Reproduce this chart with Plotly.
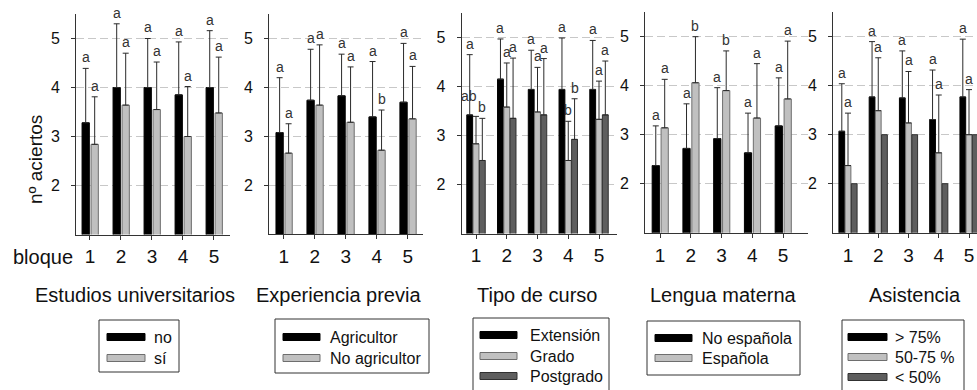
import plotly.graph_objects as go

W, H = 977, 390
FONT = "Liberation Sans, Arial, sans-serif"

# ---------------- data ----------------
bloques = [1, 2, 3, 4, 5]
tick_labels = ["1", "2", "3", "4", "5"]
y_ticks = [2, 3, 4, 5]

# Estudios universitarios
est_names = ["no", "sí"]
est_no_mean = [3.28, 4.00, 4.00, 3.85, 4.00]
est_no_err = [1.11, 1.30, 1.00, 1.08, 1.16]
est_no_let = ["a", "a", "a", "a", "a"]
est_si_mean = [2.84, 3.64, 3.55, 3.00, 3.48]
est_si_err = [0.97, 1.06, 0.97, 1.02, 1.14]
est_si_let = ["a", "a", "a", "a", "a"]

# Experiencia previa
exp_names = ["Agricultor", "No agricultor"]
exp_agr_mean = [3.07, 3.73, 3.82, 3.39, 3.69]
exp_agr_err = [1.12, 1.04, 0.85, 1.13, 1.20]
exp_agr_let = ["a", "a", "a", "a", "a"]
exp_noagr_mean = [2.65, 3.63, 3.28, 2.71, 3.35]
exp_noagr_err = [0.60, 1.23, 1.13, 0.82, 1.07]
exp_noagr_let = ["a", "a", "a", "b", "a"]

# Tipo de curso
cur_names = ["Extensión", "Grado", "Postgrado"]
cur_ext_mean = [3.42, 4.15, 3.94, 3.94, 3.94]
cur_ext_err = [1.23, 0.82, 0.80, 1.05, 1.00]
cur_ext_let = ["a", "a", "a", "a", "a"]
cur_gra_mean = [2.83, 3.58, 3.48, 2.49, 3.33]
cur_gra_err = [0.56, 0.90, 0.91, 0.80, 0.78]
cur_gra_let = ["ab", "a", "a", "b", "a"]
cur_pos_mean = [2.49, 3.35, 3.42, 2.92, 3.42]
cur_pos_err = [0.86, 1.23, 1.15, 0.83, 1.10]
cur_pos_let = ["b", "a", "a", "b", "a"]

# Lengua materna
len_names = ["No española", "Española"]
len_noesp_mean = [2.37, 2.72, 2.92, 2.63, 3.18]
len_noesp_err = [0.81, 0.91, 1.04, 0.81, 0.98]
len_noesp_let = ["a", "a", "a", "a", "a"]
len_esp_mean = [3.14, 4.06, 3.90, 3.34, 3.73]
len_esp_err = [0.99, 0.94, 0.81, 1.11, 1.18]
len_esp_let = ["a", "b", "b", "a", "a"]

# Asistencia
asi_names = ["> 75%", "50-75 %", "< 50%"]
asi_alta_mean = [3.07, 3.77, 3.75, 3.31, 3.77]
asi_alta_err = [0.97, 1.13, 0.96, 1.01, 1.18]
asi_alta_let = ["a", "a", "a", "a", "a"]
asi_media_mean = [2.37, 3.49, 3.24, 2.63, 3.00]
asi_media_err = [1.07, 1.08, 1.05, 1.18, 0.92]
asi_media_let = ["a", "a", "a", "a", "a"]
asi_baja_mean = [2.00, 3.00, 3.00, 2.00, 3.00]

# ---------------- styles ----------------
BLACK = dict(color="#000000", line="#000000")
GRAY = dict(color="#c0c0c0", line="#6e6e6e")
DARK = dict(color="#5e5e5e", line="#303030")


def fx(px):
    return px / W


def fy(py):
    return 1 - py / H


panels = [
    dict(title="Estudios universitarios", dom=(76, 229.5), xr=(0.55, 5.5), yd=(234.5, 14.0),
         series=[(est_no_mean, est_no_err, est_no_let, BLACK, est_names[0]),
                 (est_si_mean, est_si_err, est_si_let, GRAY, est_names[1])],
         tx=135, legend=dict(box=(99, 320, 179, 372), sym=(107, 145), tx=152, rows=[337, 358])),
    dict(title="Experiencia previa", dom=(269, 423), xr=(0.52, 5.49), yd=(234.0, 13.5),
         series=[(exp_agr_mean, exp_agr_err, exp_agr_let, BLACK, exp_names[0]),
                 (exp_noagr_mean, exp_noagr_err, exp_noagr_let, GRAY, exp_names[1])],
         tx=338, legend=dict(box=(275, 319, 429, 373), sym=(283, 320), tx=328, rows=[337, 358])),
    dict(title="Tipo de curso", dom=(461.5, 617), xr=(0.528, 5.585), yd=(233.5, 13.0),
         series=[(cur_ext_mean, cur_ext_err, cur_ext_let, BLACK, cur_names[0]),
                 (cur_gra_mean, cur_gra_err, cur_gra_let, GRAY, cur_names[1]),
                 (cur_pos_mean, cur_pos_err, cur_pos_let, DARK, cur_names[2])],
         tx=537, legend=dict(box=(473, 318, 609, 400), sym=(480, 517), tx=528, rows=[335, 356, 376])),
    dict(title="Lengua materna", dom=(645, 808), xr=(0.512, 5.813), yd=(232.7, 12.2),
         series=[(len_noesp_mean, len_noesp_err, len_noesp_let, BLACK, len_names[0]),
                 (len_esp_mean, len_esp_err, len_esp_let, GRAY, len_names[1])],
         tx=723, legend=dict(box=(647, 321, 800, 375), sym=(655, 692), tx=700, rows=[338, 358])),
    dict(title="Asistencia", dom=(833, 977), xr=(0.504, 5.264), yd=(232.7, 12.2),
         series=[(asi_alta_mean, asi_alta_err, asi_alta_let, BLACK, asi_names[0]),
                 (asi_media_mean, asi_media_err, asi_media_let, GRAY, asi_names[1]),
                 (asi_baja_mean, None, None, DARK, asi_names[2])],
         tx=915, legend=dict(box=(842, 320, 964, 400), sym=(848, 887), tx=893, rows=[337, 357, 377])),
]

fig = go.Figure()
annotations = []
shapes = []
layout = {}

for i, p in enumerate(panels):
    n = i + 1
    xa = "x" if n == 1 else f"x{n}"
    ya = "y" if n == 1 else f"y{n}"
    xkey = "xaxis" if n == 1 else f"xaxis{n}"
    ykey = "yaxis" if n == 1 else f"yaxis{n}"
    ns = len(p["series"])
    if ns == 2:
        w, offs = 0.235, [-0.255, 0.035]
    else:
        w, offs = 0.19, [-0.30, -0.095, 0.11]
    for (mean, err, lets, sty, name), off in zip(p["series"], offs):
        ey = None
        if err is not None:
            ey = dict(type="data", symmetric=False, array=err, arrayminus=[0] * len(err),
                      color="#2a2a2a", thickness=1, width=3)
        fig.add_trace(go.Bar(x=bloques, y=mean, width=w, offset=off, name=name,
                             marker=dict(color=sty["color"], line=dict(color=sty["line"], width=1)),
                             error_y=ey, xaxis=xa, yaxis=ya, showlegend=False))
        if lets is not None:
            for b, m, e, t in zip(bloques, mean, err, lets):
                two = len(t) > 1
                annotations.append(dict(x=b + off + w / 2, y=m + e, xref=xa, yref=ya, text=t,
                                        showarrow=False, yshift=20 if two else 11,
                                        xshift=-7 if two else 0, yanchor="middle",
                                        font=dict(family=FONT, size=14, color="#333333")))
    layout[xkey] = dict(domain=[fx(p["dom"][0]), fx(p["dom"][1])], range=list(p["xr"]),
                        anchor=ya, tickvals=bloques, ticktext=tick_labels, showgrid=False,
                        zeroline=False, showline=True, linecolor="#333333", linewidth=1,
                        ticks="outside", ticklen=4, tickcolor="#333333", ticklabelstandoff=1,
                        tickfont=dict(family=FONT, size=19, color="#111111"), fixedrange=True)
    layout[ykey] = dict(domain=[fy(p["yd"][0]), fy(p["yd"][1])], range=[1, 5.5], anchor=xa,
                        tickvals=y_ticks, showgrid=True, gridcolor="#c8c8c8", griddash="8px,4px",
                        gridwidth=1, zeroline=False, showline=True, linecolor="#333333", linewidth=1,
                        ticks="outside", ticklen=4, tickcolor="#333333", ticklabelstandoff=8,
                        tickfont=dict(family=FONT, size=16, color="#111111"), fixedrange=True)
    # panel title
    annotations.append(dict(x=fx(p["tx"]), y=fy(295), xref="paper", yref="paper", text=p["title"],
                            showarrow=False, xanchor="center", yanchor="middle",
                            font=dict(family=FONT, size=20, color="#111111")))
    # manual legend
    lg = p["legend"]
    bx0, by0, bx1, by1 = lg["box"]
    shapes.append(dict(type="rect", xref="paper", yref="paper", x0=fx(bx0), x1=fx(bx1),
                       y0=fy(by0), y1=fy(by1), line=dict(color="#333333", width=1),
                       fillcolor="white", layer="above"))
    for (mean, err, lets, sty, name), ry in zip(p["series"], lg["rows"]):
        shapes.append(dict(type="rect", xref="paper", yref="paper", x0=fx(lg["sym"][0]),
                           x1=fx(lg["sym"][1]), y0=fy(ry - 3.5), y1=fy(ry + 3.5),
                           line=dict(color=sty["line"], width=1), fillcolor=sty["color"],
                           layer="above"))
        annotations.append(dict(x=fx(lg["tx"]), y=fy(ry), xref="paper", yref="paper", text=name,
                                showarrow=False, xanchor="left", yanchor="middle",
                                font=dict(family=FONT, size=16, color="#111111")))

annotations.append(dict(x=fx(35), y=fy(160), xref="paper", yref="paper", text="nº aciertos",
                        textangle=-90, showarrow=False, xanchor="center", yanchor="middle",
                        font=dict(family=FONT, size=19, color="#111111")))
annotations.append(dict(x=fx(43), y=fy(257), xref="paper", yref="paper", text="bloque",
                        showarrow=False, xanchor="center", yanchor="middle",
                        font=dict(family=FONT, size=20, color="#111111")))

fig.update_layout(width=W, height=H, margin=dict(l=0, r=0, t=0, b=0), paper_bgcolor="white",
                  plot_bgcolor="white", showlegend=False, annotations=annotations, shapes=shapes,
                  barmode="group", font=dict(family=FONT), **layout)

fig.write_html("out.html", config={"displayModeBar": False},
               post_script="document.body.style.margin='0';document.body.style.overflow='hidden';")
